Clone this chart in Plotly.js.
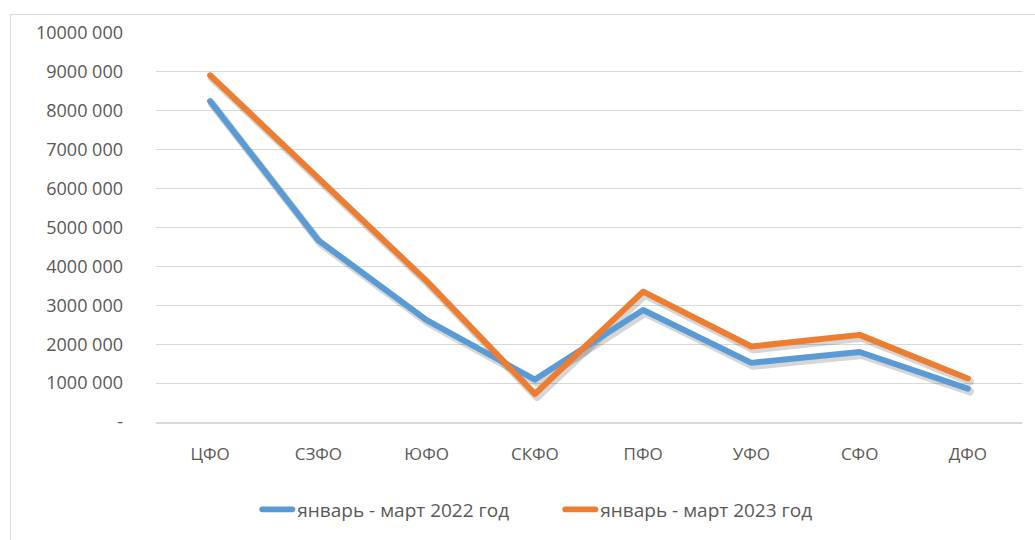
<!DOCTYPE html>
<html>
<head>
<meta charset="utf-8">
<script src="https://cdn.plot.ly/plotly-3.0.1.min.js"></script>
<style>
  html, body { margin: 0; padding: 0; background: #fff; }
  #wrap { position: relative; width: 1035px; height: 540px; overflow: hidden; }
  #chart { width: 1035px; height: 540px; }
  #frame { position: absolute; left: 10px; top: 14px; width: 1100px; height: 600px;
           border: 1px solid #d9d9d9; pointer-events: none; box-sizing: border-box; }
  .js-line { stroke-linecap: round; stroke-linejoin: round; }
</style>
</head>
<body>
<div id="wrap">
  <div id="chart"></div>
  <div id="frame"></div>
</div>
<script>
const categories = ["ЦФО", "СЗФО", "ЮФО", "СКФО", "ПФО", "УФО", "СФО", "ДФО"];
const series2022 = [8250000, 4670000, 2620000, 1090000, 2880000, 1520000, 1800000, 860000];
const series2023 = [8910000, 6250000, 3620000, 720000, 3350000, 1940000, 2240000, 1120000];
const name2022 = "январь - март 2022 год";
const name2023 = "январь - март 2023 год";
const yTickVals = [0, 1000000, 2000000, 3000000, 4000000, 5000000, 6000000, 7000000, 8000000, 9000000, 10000000];
const yTickText = ["-", "1000 000", "2000 000", "3000 000", "4000 000", "5000 000", "6000 000", "7000 000", "8000 000", "9000 000", "10000 000"];

const font = "'Open Sans', 'Liberation Sans', sans-serif";
const textColor = "#595959";
const yMax = 10000000;
const shadowDy = yMax * 3 / 391;   // ~3px down
const shadowDx = 2 / 108;          // ~2px right

// Shadows live on the base axes (x, y, with shifted ranges, hidden);
// the visible axes and the coloured lines live on the overlay axes (x2, y2), drawn on top.
const traces = [
  { x: categories, y: series2022, xaxis: "x", yaxis: "y", type: "scatter", mode: "lines",
    line: { color: "rgba(0,0,0,0.16)", width: 8 }, showlegend: false, hoverinfo: "skip" },
  { x: categories, y: series2023, xaxis: "x", yaxis: "y", type: "scatter", mode: "lines",
    line: { color: "rgba(0,0,0,0.16)", width: 8 }, showlegend: false, hoverinfo: "skip" },
  { x: categories, y: series2022, name: name2022, xaxis: "x2", yaxis: "y2", type: "scatter", mode: "lines",
    line: { color: "#5B9BD5", width: 6 } },
  { x: categories, y: series2023, name: name2023, xaxis: "x2", yaxis: "y2", type: "scatter", mode: "lines",
    line: { color: "#ED7D31", width: 6 } }
];

const layout = {
  width: 1035, height: 540,
  margin: { l: 156, r: 13, t: 33, b: 116 },
  paper_bgcolor: "#ffffff", plot_bgcolor: "#ffffff",
  font: { family: font, size: 17, color: textColor },
  showlegend: true,
  legend: { orientation: "h", x: 0.117, xanchor: "left", y: -0.225, yanchor: "middle",
            entrywidth: 258, entrywidthmode: "pixels",
            font: { family: font, size: 19, color: textColor }, traceorder: "normal" },
  xaxis: { type: "category", range: [-0.5 - shadowDx, 7.5 - shadowDx], visible: false,
           showgrid: false, zeroline: false },
  yaxis: { range: [shadowDy, yMax + shadowDy], visible: false, showgrid: false, zeroline: false },
  xaxis2: { type: "category", overlaying: "x", range: [-0.5, 7.5], showgrid: false, zeroline: false,
            showline: true, linecolor: "#d9d9d9", linewidth: 2, ticks: "",
            ticklabelstandoff: 16, tickfont: { family: font, size: 17, color: textColor } },
  yaxis2: { overlaying: "y", range: [0, yMax], tickvals: yTickVals, ticktext: yTickText,
            showgrid: true, gridcolor: "#d9d9d9", gridwidth: 1, zeroline: false,
            showline: false, ticks: "", ticklabelstandoff: 32, side: "left",
            tickfont: { family: font, size: 18, color: textColor } }
};

Plotly.newPlot("chart", traces, layout, { displayModeBar: false, staticPlot: true });
</script>
</body>
</html>
